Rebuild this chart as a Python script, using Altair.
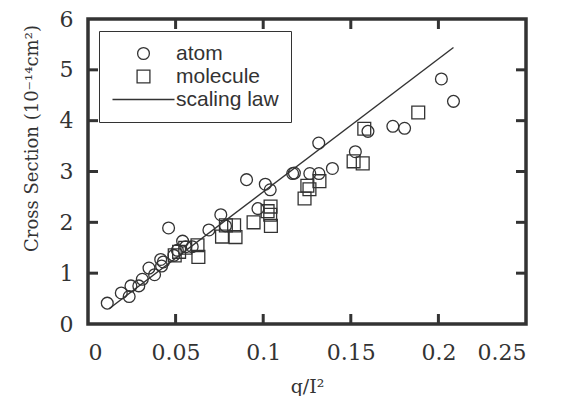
import altair as alt
import pandas as pd

# ---- data ----
atom_x = [0.011, 0.019, 0.0235, 0.0245, 0.029, 0.031, 0.0348, 0.038, 0.0415, 0.042,
          0.043, 0.046, 0.049, 0.051, 0.054, 0.0558, 0.0595, 0.069, 0.0758, 0.0785,
          0.0905, 0.097, 0.1012, 0.104, 0.1168, 0.1178, 0.1266, 0.1318, 0.1317, 0.1395,
          0.1526, 0.1598, 0.174, 0.1807, 0.2017, 0.2086]
atom_y = [0.41, 0.61, 0.54, 0.75, 0.75, 0.88, 1.10, 0.97, 1.27, 1.14,
          1.22, 1.89, 1.35, 1.45, 1.63, 1.52, 1.52, 1.85, 2.15, 1.93,
          2.84, 2.27, 2.75, 2.64, 2.96, 2.97, 2.96, 2.96, 3.56, 3.06,
          3.39, 3.79, 3.89, 3.85, 4.82, 4.38]

mol_x = [0.0495, 0.052, 0.0555, 0.0625, 0.063, 0.0765, 0.0787, 0.0834, 0.0842, 0.0945,
         0.1025, 0.1042, 0.104, 0.1044, 0.1236, 0.1252, 0.1264, 0.1321, 0.1516, 0.1568,
         0.1577, 0.1885]
mol_y = [1.35, 1.42, 1.50, 1.55, 1.32, 1.72, 1.94, 1.94, 1.71, 2.00,
         2.22, 2.31, 2.15, 1.93, 2.47, 2.72, 2.65, 2.81, 3.20, 3.16,
         3.84, 4.16]

law_x = [0.012, 0.2086]
law_y = [0.30, 5.44]

series_names = ["atom", "molecule", "scaling law"]
x_label_values = [0, 0.05, 0.1, 0.15, 0.2, 0.25]
y_label_values = [0, 1, 2, 3, 4, 5, 6]
x_tick_values = [0.05, 0.1, 0.15, 0.2]
y_tick_values = [1, 2, 3, 4, 5]

W, H = 438, 305
INK = "#333333"
SERIF = "DejaVu Serif"
X_MAX, Y_MAX = 0.25, 6
TX = X_MAX * 10 / W   # 10 px tick length in x units
TY = Y_MAX * 10 / H   # 10 px tick length in y units

# ---- one table for everything ----
rows = []
for x, y in zip(atom_x, atom_y):
    rows.append({"kind": "pt", "series": "atom", "x": x, "y": y})
for x, y in zip(mol_x, mol_y):
    rows.append({"kind": "pt", "series": "molecule", "x": x, "y": y})
for x, y in zip(law_x, law_y):
    rows.append({"kind": "law", "series": "scaling law", "x": x, "y": y})
for v in x_tick_values:
    rows.append({"kind": "xtick", "series": "tick", "x": v, "x2": v, "y": 0, "y2": TY})
    rows.append({"kind": "xtick", "series": "tick", "x": v, "x2": v, "y": Y_MAX - TY, "y2": Y_MAX})
for v in y_tick_values:
    rows.append({"kind": "ytick", "series": "tick", "x": 0, "x2": TX, "y": v, "y2": v})
    rows.append({"kind": "ytick", "series": "tick", "x": X_MAX - TX, "x2": X_MAX, "y": v, "y2": v})
df = pd.DataFrame(rows)

xscale = alt.Scale(domain=[0, X_MAX], nice=False, zero=False)
yscale = alt.Scale(domain=[0, Y_MAX], nice=False, zero=False)

xaxis = alt.Axis(values=x_label_values, format="~g", labelPadding=18, tickSize=0,
                 domain=False, grid=False, ticks=False,
                 labelFont=SERIF, labelFontSize=22, labelColor=INK,
                 titleFont=SERIF, titleFontSize=19, titleFontWeight="normal", titleColor=INK,
                 titleY=62, titleBaseline="middle")
yaxis = alt.Axis(values=y_label_values, format="d", labelPadding=15, tickSize=0,
                 domain=False, grid=False, ticks=False,
                 labelFont=SERIF, labelFontSize=22, labelColor=INK,
                 titleFont=SERIF, titleFontSize=18, titleFontWeight="normal", titleColor=INK,
                 titleX=-56, titleY=119, titleAngle=270, titleBaseline="middle",
                 titleAlign="center")

base = alt.Chart(df)

points = base.transform_filter(alt.datum.kind == "pt").mark_point(
    filled=False, stroke=INK, strokeWidth=1.3, opacity=1).encode(
    x=alt.X("x:Q", scale=xscale, axis=xaxis, title="q/I²"),
    y=alt.Y("y:Q", scale=yscale, axis=yaxis, title="Cross Section (10⁻¹⁴cm²)"),
    shape=alt.Shape("series:N",
                    scale=alt.Scale(domain=series_names, range=["circle", "square", "M-4.5,0H4.5"]),
                    legend=alt.Legend(title=None,
                                      orient="none", legendX=11, legendY=12,
                                      fillColor="white", strokeColor=INK, padding=12,
                                      labelFont="Liberation Sans", labelFontSize=21, labelColor=INK,
                                      labelOffset=22, symbolOffset=22, rowPadding=1, clipHeight=21,
                                      symbolStrokeColor=INK, symbolStrokeWidth=1.3,
                                      symbolFillColor="transparent")),
    size=alt.Size("series:N", scale=alt.Scale(domain=series_names, range=[139, 190, 169])),
)

line = base.transform_filter(alt.datum.kind == "law").mark_line(color=INK, strokeWidth=1.4).encode(
    x=alt.X("x:Q", scale=xscale),
    y=alt.Y("y:Q", scale=yscale),
)

ticks = base.transform_filter((alt.datum.kind == "xtick") | (alt.datum.kind == "ytick")).mark_rule(
    color=INK, strokeWidth=3, opacity=1).encode(
    x=alt.X("x:Q", scale=xscale),
    x2="x2:Q",
    y=alt.Y("y:Q", scale=yscale),
    y2="y2:Q",
)

chart = alt.layer(line, ticks, points).properties(
    width=W, height=H,
    autosize=alt.AutoSizeParams(type="none"),
    padding={"left": 80, "top": 11, "right": 20, "bottom": 72},
).configure(background="white").configure_view(stroke=INK, strokeWidth=3.5)

chart.save("out.html", embed_options={"renderer": "svg", "actions": False})
